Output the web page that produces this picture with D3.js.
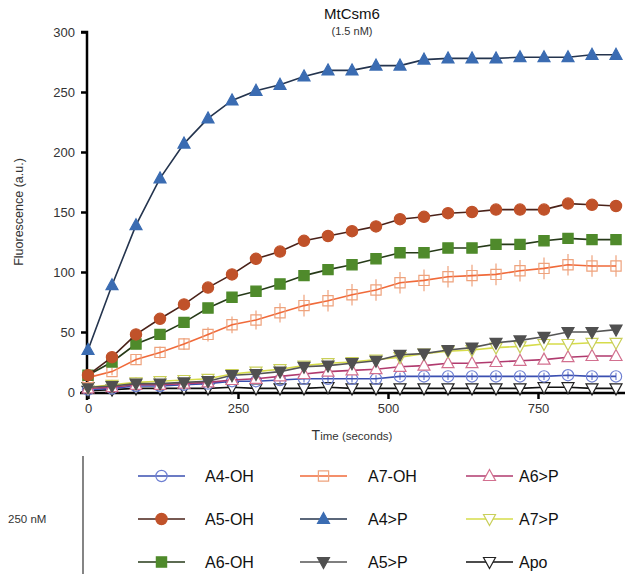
<!DOCTYPE html>
<html>
<head>
<meta charset="utf-8">
<script src="https://cdn.jsdelivr.net/npm/d3@7"></script>
<style>
  body { margin: 0; background: #fff; }
  svg { font-family: "Liberation Sans", Arial, sans-serif; }
</style>
</head>
<body>
<svg id="chart" width="628" height="574"></svg>
<script>
"use strict"
// time points (seconds)
var times = [0,40,80,120,160,200,240,280,320,360,400,440,480,520,560,600,640,680,720,760,800,840,880];

var a4oh = [2,3,5,5,6,7,9,9,10,11,11,11,11,13,13,13,13,13,13,13,14,13,13];
var a5oh = [14,29,48,61,73,87,98,111,117,126,130,134,138,144,146,149,150,152,152,152,157,156,155];
var a6oh = [14,25,40,48,58,70,79,84,90,97,102,106,111,116,116,120,120,123,123,126,128,127,127];
var a7oh = [12,17,27,33,40,48,56,60,66,72,76,81,85,91,93,96,97,98,101,103,106,105,105];
var a7ohErr = [2,3,4,5,5,6,7,8,8,9,9,9,9,9,9,9,9,9,9,9,9,9,9];
var a4ohErr = [1,1,2,2,2,2,3,3,3,3,3,3,3,3,3,3,3,3,3,3,3,3,3];
var a4p = [35,89,139,178,207,228,243,251,256,263,268,268,272,272,277,278,278,278,279,279,279,281,281];
var a5p = [4,5,7,7,8,9,14,15,17,21,22,24,26,31,32,35,37,41,43,46,50,50,52];
var a6p = [3,4,6,6,7,8,10,11,13,15,17,18,19,21,22,24,24,25,26,27,29,30,30];
var a7p = [4,6,8,9,10,11,15,17,19,22,24,25,27,29,32,34,35,37,38,40,40,41,41];
var apo = [1,2,3,3,3,3,4,3,3,3,4,3,3,3,3,3,3,3,3,4,4,3,3];

var yTicks = [0,50,100,150,200,250,300];
var xTicks = [0,250,500,750];

var svg = d3.select("svg#chart");

var x = d3.scaleLinear().domain([0, 895]).range([88, 625]);
var y = d3.scaleLinear().domain([0, 300]).range([392, 32]);

// series: name, values, line colour, marker, fill, marker stroke, errors
var series = [
  {name: "Apo",   v: apo,  line: "#111",    shape: "tdown", fill: "#fff",    stroke: "#222"},
  {name: "A4-OH", v: a4oh, line: "#3a4fb0", shape: "circle", fill: "none",   stroke: "#6f80d2", err: a4ohErr},
  {name: "A6>P",  v: a6p,  line: "#b03a6e", shape: "tup",   fill: "#fff",    stroke: "#d2708f"},
  {name: "A7>P",  v: a7p,  line: "#d6dc4a", shape: "tdown", fill: "#fff",    stroke: "#c9cf5a"},
  {name: "A5>P",  v: a5p,  line: "#555",    shape: "tdown", fill: "#505050", stroke: "#505050"},
  {name: "A7-OH", v: a7oh, line: "#f06a3a", shape: "square", fill: "none",   stroke: "#eea27c", err: a7ohErr},
  {name: "A6-OH", v: a6oh, line: "#263a18", shape: "square", fill: "#4f8a2b", stroke: "#4f8a2b"},
  {name: "A5-OH", v: a5oh, line: "#4a2219", shape: "circle", fill: "#c0522a", stroke: "#c0522a"},
  {name: "A4>P",  v: a4p,  line: "#24344e", shape: "tup",   fill: "#3b6cb2", stroke: "#3b6cb2"}
];

function markerPath(shape) {
  if (shape === "circle") return d3.symbol(d3.symbolCircle, 100)();
  if (shape === "square") return d3.symbol(d3.symbolSquare, 105)();
  if (shape === "tup") return "M0,-6.5L6,4.5L-6,4.5Z";
  return "M0,6.5L6,-4.5L-6,-4.5Z";
}

// axes
var yAxis = svg.append("g")
    .attr("transform", "translate(87,0)")
    .call(d3.axisLeft(y).tickValues(yTicks).tickSize(6).tickPadding(6));
var xAxis = svg.append("g")
    .attr("transform", "translate(0,393)")
    .call(d3.axisBottom(x).tickValues(xTicks).tickSize(6).tickPadding(5));

[yAxis, xAxis].forEach(function(g) {
  g.select(".domain").attr("stroke", "#000").attr("stroke-width", 2.5);
  g.selectAll(".tick line").attr("stroke", "#000").attr("stroke-width", 2.5);
  g.selectAll(".tick text").attr("fill", "#333").style("font-size", "13px").style("font-family", "Liberation Sans, Arial, sans-serif");
});
xAxis.select(".domain").attr("d", "M80,0H625");
yAxis.select(".domain").attr("d", "M-6,32H0V400");

var line = d3.line()
    .x(function(d, i) { return x(times[i]); })
    .y(function(d) { return y(d); });

series.forEach(function(s) {
  var g = svg.append("g").attr("class", "series");
  if (s.err) {
    g.selectAll("line.err")
      .data(s.v)
    .enter().append("line")
      .attr("x1", function(d, i) { return x(times[i]); })
      .attr("x2", function(d, i) { return x(times[i]); })
      .attr("y1", function(d, i) { return y(d - s.err[i]); })
      .attr("y2", function(d, i) { return y(d + s.err[i]); })
      .attr("stroke", s.stroke)
      .attr("stroke-width", 1.2);
  }
  g.append("path")
      .datum(s.v)
      .attr("d", line)
      .attr("fill", "none")
      .attr("stroke", s.line)
      .attr("stroke-width", 1.6);
  g.selectAll("path.mk")
      .data(s.v)
    .enter().append("path")
      .attr("class", "mk")
      .attr("d", markerPath(s.shape))
      .attr("transform", function(d, i) { return "translate(" + x(times[i]) + "," + y(d) + ")"; })
      .attr("fill", s.fill)
      .attr("stroke", s.stroke)
      .attr("stroke-width", 1.2);
});

// titles
svg.append("text").attr("x", 352).attr("y", 19).attr("text-anchor", "middle")
    .style("font-size", "15px").attr("fill", "#111").text("MtCsm6");
svg.append("text").attr("x", 352).attr("y", 35).attr("text-anchor", "middle")
    .style("font-size", "11px").attr("fill", "#333").text("(1.5 nM)");

var xl = svg.append("text").attr("x", 352).attr("y", 440).attr("text-anchor", "middle").attr("fill", "#333");
xl.append("tspan").style("font-size", "14px").text("T");
xl.append("tspan").style("font-size", "11.5px").text("ime (seconds)");

svg.append("text")
    .attr("transform", "translate(23,212) rotate(-90)")
    .attr("text-anchor", "middle")
    .style("font-size", "12.5px").attr("fill", "#333")
    .text("Fluorescence (a.u.)");

// legend
var legendOrder = ["A4-OH","A5-OH","A6-OH","A7-OH","A4>P","A5>P","A6>P","A7>P","Apo"];
var colX = [138, 300, 466];
var textX = [205, 368, 519];
var rowY = [476, 519, 562];

svg.append("line").attr("x1", 83).attr("x2", 83).attr("y1", 456).attr("y2", 574)
    .attr("stroke", "#333").attr("stroke-width", 1.2);
svg.append("text").attr("x", 8).attr("y", 523).style("font-size", "11.5px").attr("fill", "#333").text("250 nM");

legendOrder.forEach(function(name, k) {
  var s = series.filter(function(d) { return d.name === name; })[0];
  var c = Math.floor(k / 3), r = k % 3;
  var g = svg.append("g").attr("transform", "translate(" + colX[c] + "," + rowY[r] + ")");
  g.append("line").attr("x1", 0).attr("x2", 47).attr("stroke", s.line).attr("stroke-width", 1.6);
  g.append("path").attr("d", markerPath(s.shape)).attr("transform", "translate(23.5,0)")
    .attr("fill", s.fill).attr("stroke", s.stroke).attr("stroke-width", 1.2);
  svg.append("text").attr("x", textX[c]).attr("y", rowY[r] + 6)
    .style("font-size", "16px").attr("fill", "#111").text(name);
});
</script>
</body>
</html>
